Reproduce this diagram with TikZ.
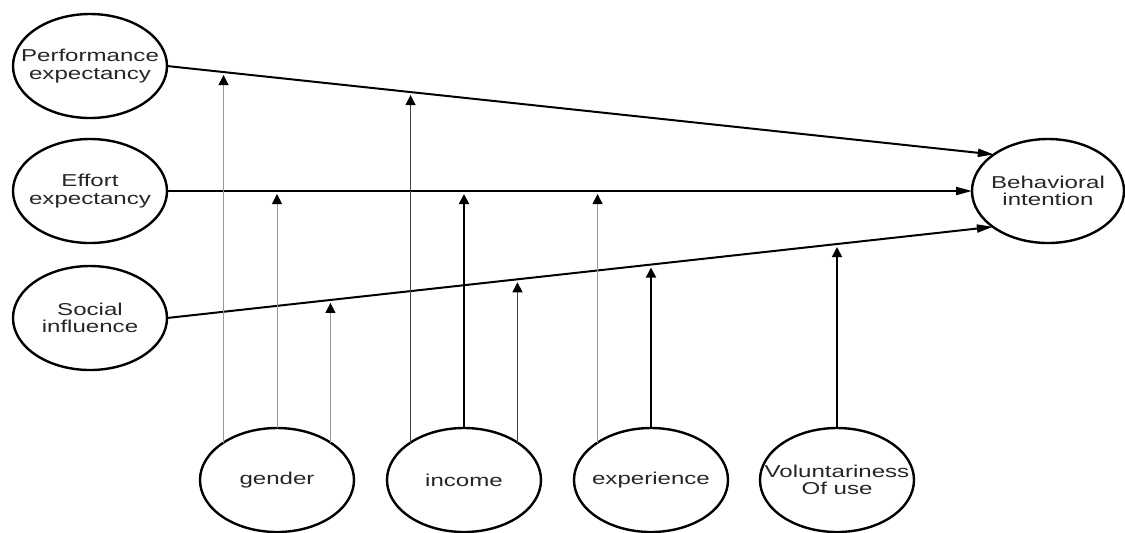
\documentclass[tikz,border=0pt]{standalone}
\usepackage{fontspec}
\setmainfont{Liberation Sans}[FakeStretch=1.4]
\usetikzlibrary{arrows.meta,intersections,shapes.geometric}

\tikzset{
  factor/.style={draw, ellipse, line width=1.2pt, minimum width=77pt, minimum height=52pt,
    inner xsep=-10pt, inner ysep=0pt, outer sep=0pt, align=center,
    font=\fontsize{8.6}{8.8}\selectfont, text=black!85},
  effect/.style={line width=1pt, -{Triangle[length=8pt,width=4pt]}},
  moderate/.style={line width=0.6pt, draw=black!75, shorten >=1.5pt,
    -{Triangle[length=5pt,width=5pt,color=black]}},
  faint/.style={line width=0.5pt, draw=black!40},
  strong/.style={line width=0.9pt, draw=black}
}

\begin{document}
\begin{tikzpicture}[x=0.5pt, y=-0.5pt]
\useasboundingbox (0,0) rectangle (1125,532);
% constructs
\node[factor] (pe) at (90,66) {Performance\\expectancy};
\node[factor] (ee) at (90,191) {Effort\\expectancy};
\node[factor] (si) at (90,318) {Social\\influence};
\node[factor, minimum width=76pt] (bi) at (1048,191) {Behavioral\\intention};
% moderators
\node[factor] (gen) at (277,480) {gender};
\node[factor] (inc) at (464,480) {income};
\node[factor] (exp) at (651,480) {experience};
\node[factor] (vol) at (837,480) {Voluntariness\\Of use};
% direct effects
\draw[effect, name path=pebi] (pe.east) -- (bi.146);
\draw[effect, name path=eebi] (ee) -- (bi);
\draw[effect, name path=sibi] (si.east) -- (bi.213);
% moderating effects
\foreach \from/\ang/\onto/\look in {gen/145/pebi/faint, gen/90/eebi/faint, gen/35/sibi/faint,
    inc/145/pebi/moderate, inc/90/eebi/strong, inc/35/sibi/moderate,
    exp/145/eebi/faint, exp/90/sibi/strong, vol/90/sibi/strong} {
  \path[name path=up] (\from.\ang) -- ++(0,-500);
  \draw[moderate, \look, name intersections={of=up and \onto}] (\from.\ang) -- (intersection-1);
}
\end{tikzpicture}
\end{document}
